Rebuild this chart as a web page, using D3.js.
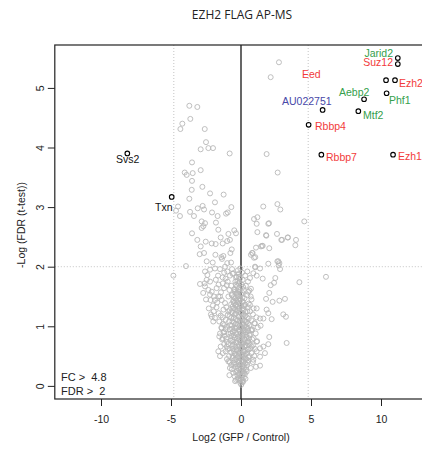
<!DOCTYPE html>
<html>
<head>
<meta charset="utf-8">
<script src="https://cdn.jsdelivr.net/npm/d3@7"></script>
<style>
  body { margin: 0; background: #fff; }
  svg text { font-family: "Liberation Sans", Arial, sans-serif; }
</style>
</head>
<body>
<svg id="chart" width="422" height="454"></svg>
<script>
// labelled interactors
const genes = ["Jarid2", "Suz12", "Eed", "Ezh2", "Phf1", "Aebp2", "AU022751", "Mtf2", "Rbbp4", "Rbbp7", "Ezh1", "Svs2", "Txn"];
const geneFC = [11.2, 11.2, 10.36, 11.0, 10.4, 8.79, 5.83, 8.38, 4.83, 5.74, 10.86, -8.12, -4.95];
const geneFDR = [5.5, 5.4, 5.13, 5.13, 4.91, 4.81, 4.63, 4.61, 4.38, 3.88, 3.88, 3.9, 3.17];
const geneGroup = ["green", "red", "red", "red", "green", "green", "blue", "green", "red", "red", "red", "black", "black"];
// label anchor: [x, baseline y, text-anchor]
const labelPos = [[393, 57, "end"], [393, 66, "end"], [302, 78, "start"], [399, 87, "start"], [389, 104, "start"],
  [339, 96, "start"], [282, 105, "start"], [363, 119, "start"], [315, 130, "start"], [326, 161, "start"],
  [398, 160, "start"], [116, 163, "start"], [155, 211, "start"]];

// all other proteins [log2 FC, -log FDR]
const others = [
  [2.71,5.43],[2.12,5.18],[1.83,3.89],[-3.69,4.70],[-3.12,4.68],[-3.62,4.48],[-4.19,4.40],[-4.33,4.31],[-2.59,4.31],
  [-2.5,4.09],[-2.88,3.97],[-2.33,3.99],[-2.0,3.99],[-0.81,3.90],[-3.5,3.75],[-4.02,3.58],[-3.88,3.54],[-3.45,3.57],
  [-2.88,3.62],[-3.5,3.44],[-2.76,3.34],[-3.52,3.29],[-2.21,3.23],[-1.24,3.21],[-3.69,3.14],[-1.86,3.08],[-4.5,3.01],
  [-4.64,2.94],[-4.36,2.85],[-3.64,2.92],[-3.36,2.85],[-3.09,2.98],[-2.74,3.02],[-2.64,2.96],[-2.07,2.91],[-1.67,2.85],
  [-1.07,2.89],[-0.95,2.91],[-0.69,3.0],
  [2.62,3.58],[1.59,3.01],[2.6,3.05],[2.81,2.96],[4.52,2.76],[0.93,2.80],[1.17,2.83],[1.12,2.72],[2.0,2.73],[1.17,2.58],
  [1.79,2.53],[2.57,2.55],[2.88,2.45],[3.33,2.49],[3.93,2.45],[3.88,2.36],[1.07,2.32],[1.43,2.34],[1.55,2.35],[2.02,2.31],
  [0.83,2.23],[0.93,2.15],[2.6,2.09],[2.74,2.06],[2.69,2.02],[1.95,2.05],[1.02,1.99],[1.36,1.97],
  [-2.81,2.76],[-2.57,2.73],[-2.69,2.68],[-2.81,2.65],[-1.79,2.74],[1.95,2.72],[-3.5,2.56],[-1.45,2.49],[-1.62,2.62],
  [-0.9,2.55],[-0.48,2.61],[-0.36,2.56],[1.81,2.52],[3.36,2.49],[2.93,2.45],
  [-3.12,2.45],[-2.88,2.34],[-2.52,2.42],[-2.09,2.39],[-1.81,2.38],[-1.31,2.39],[-0.98,2.43],[-0.79,2.45],[-0.66,2.29],
  [-0.76,2.23],[-2.95,2.21],[-2.64,2.23],[-1.83,2.2],[-1.4,2.16],[-1.26,2.18],[-1.36,2.13],[-2.45,2.09],[-2.02,2.07],
  [-0.98,2.06],[-0.71,2.07],[0.71,2.2],[0.79,2.23],[1.02,2.16],[1.5,2.35],[2.67,2.09],[2.79,1.96],
  [-3.93,2.01],[-4.83,1.85],[6.07,1.83],[4.17,1.74],[2.45,1.81],[2.36,1.73],[2.12,1.69],[1.55,1.80],[1.12,1.85],[1.0,2.0],
  [0.64,1.81],[0.88,1.89],[-2.93,1.71],
  [-2.57,1.92],[-2.40,1.86],[-2.21,1.95],[-1.86,1.97],[-1.64,1.85],[-1.5,1.96],[-1.31,1.82],[-1.14,2.0],[-0.98,1.92],
  [-0.79,1.85],[-0.64,1.96],[-0.55,1.89],[-0.36,1.82],[-0.26,1.76],[-0.14,1.83],
  [2.02,1.56],[1.79,1.46],[2.26,1.41],[2.74,1.43],[3.14,1.46],[1.83,1.28],[1.95,1.22],[2.19,1.12],[3.02,1.20],[3.21,1.16],
  [1.36,1.13],[1.60,1.13],[1.40,1.01],[0.76,0.94],[1.0,1.05],[0.64,1.36],[0.48,1.32],[0.52,1.58],[0.71,1.63],[0.69,1.50],
  [1.12,1.30],[3.26,0.72],[2.02,0.82],[1.95,0.70],[1.60,0.66],[1.36,0.63],[1.12,0.58],[1.71,0.55],[1.36,0.49],[1.07,0.32],
  [1.36,0.34],[0.88,0.44],[1.12,0.74],[0.64,0.86],[0.52,0.74],[0.76,0.66],
  [-2.09,1.16],[-1.86,1.14],[-1.98,1.08],[-1.38,0.97],[-1.55,0.83],[-1.31,0.80],[-1.62,0.58],[-1.5,0.50],[-1.02,0.66],
  [-0.9,0.41],[-0.79,0.30],[-0.83,0.18],
  [-2.57,1.67],[-2.33,1.61],[-2.09,1.58],[-2.21,1.53],[-1.93,1.50],[-1.74,1.64],[-1.43,1.57],[-1.21,1.64],[-1.02,1.69],
  [-0.83,1.61],[-2.45,1.78],[-2.21,1.75],[-2.17,1.44],[-1.86,1.44],[-1.62,1.50],[-1.38,1.44],[-1.14,1.39],[-0.9,1.50],
  [-0.66,1.53],[-0.43,1.61],[-0.26,1.56],[-0.55,1.41],[-0.36,1.36],[-0.19,1.44],
  [-2.3,1.3],[-2.0,1.35],[-1.75,1.32],[-1.95,1.25],[-2.15,1.2],[-1.7,1.4],[-1.5,1.5],[-1.25,1.28],[-1.05,1.32],[-0.9,1.25],
  [-1.6,1.7],[-1.3,1.72],[-1.1,1.8],[-0.95,1.75],[-0.7,1.68],[-0.6,1.88],[-1.2,1.9],[-1.8,1.78],[-2.6,1.72],[-2.7,1.56],[-2.5,1.45],
  [0.02,0.02],[-0.05,0.05],[0.08,0.06],[-0.1,0.09],[0.12,0.1],[0.0,0.12],[-0.18,0.13],[0.2,0.14],[-0.03,0.16],[0.1,0.18],
  [-0.25,0.18],[0.28,0.2],[-0.12,0.22],[0.05,0.24],[0.18,0.25],[-0.3,0.25],[0.35,0.27],[-0.2,0.29],[0.0,0.3],[0.25,0.31],
  [-0.4,0.32],[0.12,0.33],[-0.08,0.35],[0.42,0.35],[-0.33,0.37],[0.3,0.38],[-0.52,0.39],[0.05,0.4],[0.2,0.41],[-0.18,0.42],
  [0.5,0.43],[-0.45,0.44],[0.36,0.45],[-0.06,0.46],[0.14,0.48],[-0.28,0.48],[0.6,0.5],[-0.6,0.5],[0.26,0.51],[-0.38,0.52],
  [0.02,0.53],[-0.15,0.55],[0.44,0.55],[-0.7,0.56],[0.16,0.57],[-0.5,0.58],[0.32,0.59],[-0.25,0.6],[0.55,0.61],[-0.05,0.62],
  [0.7,0.63],[-0.82,0.63],[0.1,0.64],[-0.4,0.65],[0.24,0.66],[-0.62,0.67],[0.4,0.68],[-0.15,0.69],[0.62,0.7],[-0.92,0.7],
  [0.0,0.71],[-0.3,0.72],[0.18,0.73],[-0.55,0.74],[0.5,0.75],[-0.75,0.76],[0.3,0.77],[-0.1,0.78],[0.8,0.78],[-1.05,0.79],
  [0.08,0.8],[-0.45,0.81],[0.4,0.82],[-0.22,0.83],[-0.68,0.84],[0.6,0.85],[0.2,0.86],[-0.9,0.87],[-0.02,0.88],[-0.35,0.89],
  [0.34,0.9],[-1.2,0.9],[-0.58,0.91],[0.12,0.92],[0.72,0.93],[-0.15,0.94],[-0.8,0.95],[0.48,0.96],[-0.42,0.97],[0.0,0.98],
  [-1.0,0.99],[0.26,1.0],[-0.65,1.01],[0.6,1.02],[-0.25,1.03],[-1.3,1.04],[0.1,1.05],[-0.5,1.06],[0.4,1.07],[-0.85,1.08],
  [-0.1,1.09],[0.22,1.1],[-1.1,1.11],[-0.35,1.12],[0.55,1.13],[-0.7,1.14],[0.02,1.15],[-0.2,1.17],[0.32,1.18],[-0.95,1.19],
  [-0.45,1.2],[0.12,1.21],[-0.6,1.23],[-0.05,1.24],[0.45,1.25],[-0.3,1.26],[-0.8,1.27],[0.2,1.28],[-0.15,1.3],[-0.5,1.31],
  [0.05,1.33],[-0.38,1.35],[0.3,1.36],[-0.7,1.37],[-0.1,1.38],[-0.25,1.4],[0.15,1.41],[-0.55,1.43],[-0.02,1.45],[-0.4,1.47],
  [0.1,1.48],[-0.2,1.5],[-0.65,1.52],[0.0,1.54],[-0.32,1.56],[-0.12,1.58],[0.2,1.6],[-0.48,1.62],[-0.05,1.65],[-0.28,1.67],
  [0.05,1.7],[-0.18,1.72],[-0.4,1.75],[0.12,1.78],[-0.08,1.8],[-0.3,1.83],[-0.15,1.88],[0.08,1.9],[-0.22,1.94],[-0.05,1.97],
  [-1.6,1.22],[-1.45,1.18],[-1.3,1.15],[-1.55,1.08],[-1.2,1.02],[-1.4,0.98],[-1.1,0.95],[-1.25,0.9],[-1.5,0.88],[-1.15,0.84],
  [-1.35,0.78],[-1.0,0.74],[-1.2,0.7],[-1.45,0.66],[-0.95,0.62],[-1.1,0.58],[-1.3,0.55],[-0.85,0.5],[-1.0,0.45],[-0.8,0.4],
  [-0.7,0.35],[-0.65,0.28],[-0.55,0.22],[-0.45,0.16],[-0.35,0.1],
  [0.7,0.3],[0.85,0.4],[0.95,0.5],[0.75,0.55],[1.0,0.62],[0.85,0.68],[1.15,0.75],[0.9,0.8],[1.05,0.88],[0.8,0.95],
  [1.2,0.98],[0.95,1.05],[0.75,1.1],[1.1,1.15],[0.85,1.2],[0.65,1.25],[0.9,1.3],[0.55,1.38],[0.75,1.45],[0.45,1.52],
  [0.6,1.6],[0.35,1.68],[0.5,1.75],[0.3,1.85],[0.45,1.92],
  [-0.42,0.08],[0.15,0.07],[-0.22,0.11],[0.32,0.12],[0.06,0.15],[-0.14,0.2],[0.22,0.22],[-0.35,0.23],[0.4,0.24],[-0.02,0.27],
  [0.12,0.28],[-0.26,0.33],[0.18,0.36],[-0.48,0.36],[0.47,0.39],[-0.12,0.4],[0.08,0.43],[-0.34,0.45],[0.28,0.46],[-0.58,0.47],
  [0.52,0.48],[-0.2,0.5],[0.1,0.52],[-0.44,0.54],[0.34,0.54],[-0.08,0.57],[0.22,0.58],[-0.32,0.6],[0.48,0.62],[-0.6,0.62],
  [0.04,0.66],[-0.18,0.66],[0.3,0.68],[-0.48,0.69],[0.14,0.7],[-0.36,0.73],[0.42,0.73],[-0.04,0.74],[-0.62,0.77],[0.24,0.78],
  [-0.26,0.79],[0.56,0.8],[-0.12,0.82],[0.1,0.84],[-0.52,0.85],[0.38,0.86],[-0.3,0.87],[-0.74,0.88],[0.18,0.89],[-0.08,0.91],
  [0.52,0.92],[-0.45,0.93],[0.28,0.94],[-0.64,0.96],[0.06,0.97],[-0.3,0.98],[0.4,0.99],[-0.12,1.0],[-0.78,1.02],[0.18,1.03],
  [-0.4,1.04],[0.5,1.05],[-0.02,1.06],[-0.6,1.08],[0.3,1.09],[-0.28,1.1],[0.08,1.12],[-0.5,1.14],[0.42,1.15],[-0.14,1.16],
  [-0.82,1.17],[0.2,1.19],[-0.36,1.21],[0.0,1.22],[-0.68,1.24],[0.32,1.24],[-0.22,1.27],[0.1,1.3],[-0.42,1.29],[-0.6,1.33],
  [0.22,1.34],[-0.25,1.33],[-0.02,1.36],[-0.48,1.39],[0.08,1.42],[-0.35,1.44],[-0.12,1.46],[0.25,1.47],[-0.52,1.49],[-0.28,1.53],
  [0.1,1.56],[-0.42,1.58],[-0.2,1.62],[0.15,1.66],[-0.35,1.7],[-0.1,1.74]
];

const xTicks = [-10, -5, 0, 5, 10];
const yTicks = [0, 1, 2, 3, 4, 5];
const fcCut = 4.8, fdrCut = 2;
const colors = { red: "#f23a3a", green: "#35a04c", blue: "#4848a8", black: "#111" };

const svg = d3.select("#chart");
const mLeft = 54.8, mRight = 427.2, mTop = 45, mBottom = 399;

const x = d3.scaleLinear().domain([-13.3, 13.3]).range([mLeft, mRight]);
const y = d3.scaleLinear().domain([-0.22, 5.72]).range([mBottom, mTop]);

// title
svg.append("text")
    .attr("x", 242).attr("y", 19)
    .attr("text-anchor", "middle")
    .style("font-family", "'Open Sans', sans-serif")
    .style("font-size", "12px")
    .attr("fill", "#222")
    .text("EZH2 FLAG AP-MS");

// threshold lines
const dotted = svg.append("g")
    .attr("stroke", "#c4c4c4")
    .attr("stroke-width", 1)
    .attr("stroke-dasharray", "1,2");
[-fcCut, fcCut].forEach(v => {
    dotted.append("line")
        .attr("x1", x(v)).attr("x2", x(v))
        .attr("y1", mTop).attr("y2", mBottom);
});
dotted.append("line")
    .attr("x1", mLeft).attr("x2", mRight)
    .attr("y1", y(fdrCut)).attr("y2", y(fdrCut));

// zero line
svg.append("line")
    .attr("x1", x(0)).attr("x2", x(0))
    .attr("y1", mTop).attr("y2", mBottom)
    .attr("stroke", "#000")
    .attr("stroke-width", 1.2);

// background proteins
svg.append("g").selectAll("circle")
    .data(others)
    .enter()
    .append("circle")
    .attr("cx", d => x(d[0]))
    .attr("cy", d => y(d[1]))
    .attr("r", 2.5)
    .attr("fill", "none")
    .attr("stroke", "#b8b8b8")
    .attr("stroke-width", 0.9);

// labelled proteins
svg.append("g").selectAll("circle")
    .data(genes)
    .enter()
    .append("circle")
    .attr("cx", (d, i) => x(geneFC[i]))
    .attr("cy", (d, i) => y(geneFDR[i]))
    .attr("r", 2.3)
    .attr("fill", "none")
    .attr("stroke", "#000")
    .attr("stroke-width", 1.1);

svg.append("g").selectAll("text")
    .data(genes)
    .enter()
    .append("text")
    .attr("x", (d, i) => labelPos[i][0])
    .attr("y", (d, i) => labelPos[i][1])
    .attr("text-anchor", (d, i) => labelPos[i][2])
    .attr("fill", (d, i) => colors[geneGroup[i]])
    .style("font-size", "10.5px")
    .text(d => d);

// box
svg.append("rect")
    .attr("x", mLeft).attr("y", mTop)
    .attr("width", mRight - mLeft).attr("height", mBottom - mTop)
    .attr("fill", "none")
    .attr("stroke", "#222")
    .attr("stroke-width", 1.2);

// axes
const xAxis = svg.append("g")
    .attr("transform", `translate(0,${mBottom})`)
    .call(d3.axisBottom(x).tickValues(xTicks).tickSize(7).tickPadding(10).tickFormat(d3.format("d")));
xAxis.select(".domain").remove();
xAxis.selectAll("text").style("font-size", "10.5px").attr("fill", "#222")
    .text(d => d < 0 ? "-" + Math.abs(d) : d);
xAxis.selectAll("line").attr("stroke", "#222");

const yAxis = svg.append("g")
    .attr("transform", `translate(${mLeft},0)`)
    .call(d3.axisLeft(y).tickValues(yTicks).tickSize(7).tickFormat(d3.format("d")));
yAxis.select(".domain").remove();
yAxis.selectAll("line").attr("stroke", "#222");
yAxis.selectAll("text")
    .style("font-size", "10.5px")
    .attr("fill", "#222")
    .attr("x", null).attr("dy", null)
    .attr("text-anchor", "middle")
    .attr("transform", "translate(-15,0) rotate(-90)")
    .attr("dominant-baseline", "central");

// axis titles
svg.append("text")
    .attr("x", 241).attr("y", 441)
    .attr("text-anchor", "middle")
    .style("font-size", "10.5px")
    .attr("fill", "#222")
    .text("Log2 (GFP / Control)");

svg.append("text")
    .attr("transform", `translate(25,${(mTop + mBottom) / 2 + 3}) rotate(-90)`)
    .attr("text-anchor", "middle")
    .style("font-size", "10.5px")
    .attr("fill", "#222")
    .text("-Log (FDR (t-test))");

// cut-off legend
svg.append("text")
    .attr("x", 61).attr("y", 381)
    .style("font-size", "11px")
    .attr("fill", "#222")
    .attr("xml:space", "preserve")
    .text("FC >  " + fcCut);
svg.append("text")
    .attr("x", 61).attr("y", 395)
    .style("font-size", "11px")
    .attr("fill", "#222")
    .attr("xml:space", "preserve")
    .text("FDR >  " + fdrCut);
</script>
</body>
</html>
